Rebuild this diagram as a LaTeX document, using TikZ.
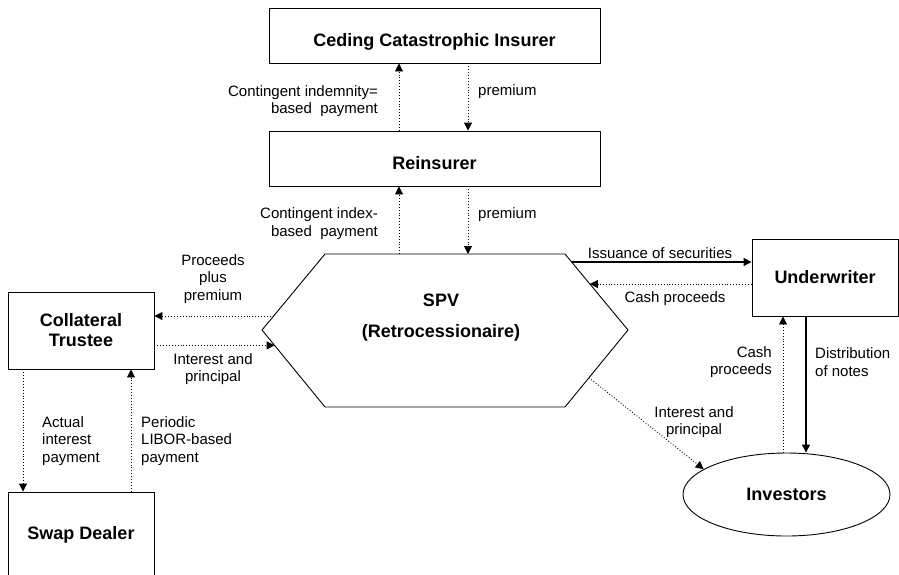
\documentclass[tikz,border=0pt]{standalone}
\usepackage{fontspec}
\setmainfont{Liberation Sans}
\usetikzlibrary{arrows.meta}
\usetikzlibrary{calc}
\usetikzlibrary{shapes.geometric}

\tikzset{
    party/.style={draw, line width=0.9pt, inner sep=0pt, align=center,
        font=\fontsize{18}{20}\selectfont\bfseries},
    lbl/.style={inner sep=0pt, font=\fontsize{15}{17.5}\selectfont},
    pay/.style={line width=0.9pt, dash pattern=on 0.9pt off 2pt,
        -{Triangle[length=8pt,width=8pt]}},
    deal/.style={line width=1.2pt, -{Triangle[length=8pt,width=8pt]}},
}

\begin{document}
\begin{tikzpicture}[x=1pt,y=-1pt]
    \useasboundingbox (0,0) rectangle (899,574);

    % parties
    \node[party, minimum width=331pt, minimum height=55pt, text height=22pt, text depth=0pt] (ceding) at (434.5,35.5) {Ceding Catastrophic Insurer};
    \node[party, minimum width=331pt, minimum height=55pt, text height=22pt, text depth=0pt] (reins) at (434.5,158.5) {Reinsurer};
    \node[party, minimum width=146pt, minimum height=77pt] (trustee) at (81,330.5) {Collateral\\Trustee};
    \node[party, minimum width=146pt, minimum height=85pt] (swap) at (81,534.5) {Swap Dealer};
    \node[party, minimum width=146pt, minimum height=77pt] (under) at (825,277.5) {Underwriter};
    \node[party, ellipse, minimum width=207pt, minimum height=83pt] (invest) at (786.5,494.5) {Investors};

    % the SPV hexagon
    \coordinate (hL) at (262,330);
    \coordinate (hTL) at (325,254);
    \coordinate (hTR) at (565,254);
    \coordinate (hR) at (628,330);
    \coordinate (hBR) at (565,407);
    \coordinate (hBL) at (325,407);
    \draw[line width=0.9pt] (hL) -- (hTL) -- (hTR) -- (hR) -- (hBR) -- (hBL) -- cycle;
    \node[inner sep=0pt, align=center, font=\fontsize{18}{31}\selectfont\bfseries] (spv) at (441,318) {SPV\\(Retrocessionaire)};

    % where the flows leave or meet the hexagon
    \coordinate (spvA) at (399,254);
    \coordinate (spvB) at (468,254);
    \coordinate (spvC) at ($(hL)!0.184!(hTL)$);
    \coordinate (spvD) at ($(hL)!0.2!(hBL)$);
    \coordinate (spvE) at ($(hTR)!0.105!(hR)$);
    \coordinate (spvF) at ($(hTR)!0.395!(hR)$);
    \coordinate (spvG) at ($(hR)!0.62!(hBR)$);
    \coordinate (trL) at ([xshift=-58pt]trustee.south);
    \coordinate (trR) at ([xshift=50pt]trustee.south);
    \coordinate (uwL) at ([xshift=-42pt]under.south);
    \coordinate (uwR) at ([xshift=-19pt]under.south);

    % flows
    \draw[pay] (spvA |- reins.north) -- (spvA |- ceding.south);
    \draw[pay] (spvB |- ceding.south) -- (spvB |- reins.north);
    \draw[pay] (spvA) -- (spvA |- reins.south);
    \draw[pay] (spvB |- reins.south) -- (spvB);
    \draw[pay] (spvC) -- (spvC -| trustee.east);
    \draw[pay] (spvD -| trustee.east) -- (spvD);
    \draw[pay] (trL) -- (trL |- swap.north);
    \draw[pay] (trR |- swap.north) -- (trR);
    \draw[deal] (spvE) -- (spvE -| under.west);
    \draw[pay] (spvF -| under.west) -- (spvF);
    \draw[pay] (uwL |- invest.north) -- (uwL);
    \draw[deal] (uwR) -- (uwR |- invest.north);
    \draw[pay] (spvG) -- (invest.163);

    % flow labels
    \node[lbl, anchor=east, align=right] (indem) at (378,101) {Contingent indemnity=\\based~~payment};
    \node[lbl, anchor=west] (premA) at (478,92) {premium};
    \node[lbl, anchor=east, align=right] (index) at (378,223.5) {Contingent index-\\based~~payment};
    \node[lbl, anchor=west] (premB) at (478,215) {premium};
    \node[lbl, align=center] (proceeds) at (213,279) {Proceeds\\plus\\premium};
    \node[lbl, align=center] (intA) at (213,369) {Interest and\\principal};
    \node[lbl, anchor=west, align=left] (actual) at (42,441) {Actual\\interest\\payment};
    \node[lbl, anchor=west, align=left] (libor) at (141,441) {Periodic\\LIBOR-based\\payment};
    \node[lbl] (issue) at (660,253) {Issuance of securities};
    \node[lbl] (cashA) at (675,299) {Cash proceeds};
    \node[lbl, anchor=east, align=right] (cashB) at (772,362) {Cash\\proceeds};
    \node[lbl, anchor=west, align=left] (distr) at (815,362) {Distribution\\of notes};
    \node[lbl, align=center] (intB) at (694,422) {Interest and\\principal};
\end{tikzpicture}
\end{document}
